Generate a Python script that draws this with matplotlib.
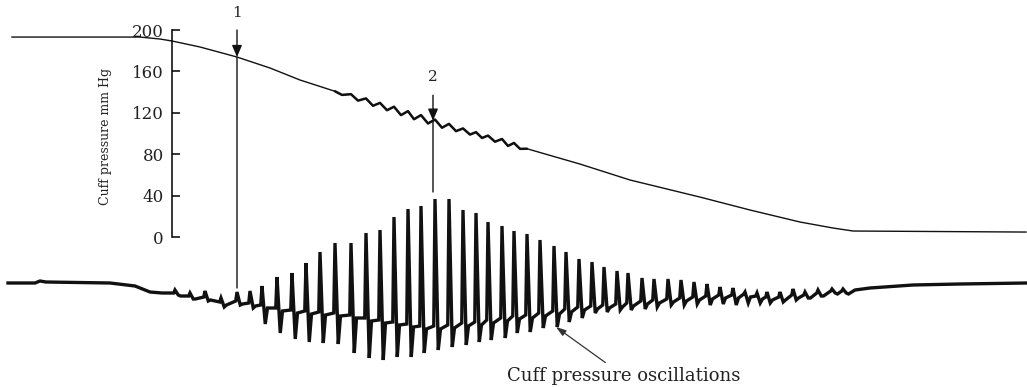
#!/bin/env python3

import numpy as np
import matplotlib
matplotlib.use('Agg')
import matplotlib.pyplot as plt
from matplotlib.patches import ConnectionPatch

# cuff pressure while the cuff deflates (time in s, pressure in mm Hg)
cuff_t = [0.48, 5.60, 6.40, 6.88, 8.00, 9.48, 10.80, 12.00,
          13.40, 13.68, 14.04, 14.32, 14.64, 14.92, 15.20, 15.48, 15.76, 16.04,
          16.32, 16.56, 16.84, 17.12, 17.40, 17.68, 17.96, 18.24, 18.52, 18.80,
          19.04, 19.28, 19.52, 19.80, 20.08, 20.32, 20.56, 20.80, 21.08,
          23.20, 25.20, 28.00, 30.00, 32.00, 33.32, 34.12, 41.04]
cuff_p = [193.2, 193.2, 191.3, 189.4, 183.6, 173.9, 163.3, 151.7,
          140.8, 137.3, 138.0, 131.8, 133.9, 126.8, 129.6, 122.5, 125.9, 117.8,
          121.6, 113.8, 117.8, 109.7, 113.5, 105.6, 109.3, 102.3, 104.9, 99.0,
          101.3, 95.7, 98.0, 92.1, 94.7, 88.0, 90.9, 85.2, 85.3,
          70.5, 55.1, 38.6, 26.1, 14.5, 8.7, 5.8, 4.8]
ripple_span = (13.40, 21.08)

# oscillation trace (arbitrary units, 0 = resting level)
lead_t = [0.32, 1.40, 1.60, 1.84, 4.40, 5.40, 6.00, 6.48]
lead_osc = [0, 0, 2, 1, 0, -3, -9, -10]

beat_t = [7.00, 7.60, 8.20, 8.84, 9.48, 10.00, 10.48, 11.08, 11.68, 12.24,
          12.80, 13.40, 14.04, 14.64, 15.20, 15.76, 16.32, 16.84, 17.40, 17.96,
          18.52, 19.04, 19.52, 20.08, 20.56, 21.08, 21.60, 22.16, 22.64, 23.16,
          23.68, 24.16, 24.68, 25.12, 25.68, 26.16, 26.72, 27.24, 27.76, 28.28,
          28.80, 29.32, 29.80, 30.28, 30.68, 31.20, 31.72, 32.20, 32.72, 33.28,
          33.72]
beat_peak = [-7, -10, -8, -15, -9, -8, -3, 6, 10, 20,
             31, 40, 40, 50, 53, 66, 74, 77, 84, 84,
             73, 70, 61, 57, 52, 49, 43, 37, 31, 24,
             21, 16, 12, 10, 5, 4, 4, 3, 1, -1,
             -4, -5, -9, -10, -9, -9, -6, -9, -7, -6,
             -6]
beat_trough = [-12, -16, -18, -24, -22, -25, -41, -50, -56, -59,
               -60, -61, -70, -75, -77, -74, -74, -70, -67, -64,
               -62, -59, -57, -55, -50, -49, -45, -44, -39, -35,
               -30, -29, -27, -27, -26, -24, -22, -22, -21, -22,
               -21, -22, -20, -20, -20, -19, -17, -15, -13, -10,
               -10]
beat_base = [-10, -13, -14, -19, -18, -20, -22, -25, -27, -28,
             -29, -30, -32, -35, -37, -39, -41, -43, -43, -42,
             -40, -39, -37, -35, -33, -32, -30, -28, -26, -24,
             -23, -22, -21, -20, -18, -17, -16, -15, -14, -13,
             -12, -12, -11, -13, -14, -14, -12, -12, -10, -8,
             -8]

tail_t = [34.20, 34.80, 36.52, 38.40, 41.08]
tail_osc = [-7, -5, -2, -1, 0]

# time points 1 and 2 marked on both traces
mark_t = [9.48, 17.32]
mark_label = ['1', '2']
mark_top = [200, 137]        # mm Hg, where the marker line starts
mark_text_p = [216, 155]
mark_osc_end = [-5, 91]      # where the marker line stops on the lower trace

pressure_ticks = [0, 40, 80, 120, 160, 200]

# pulse shape (s): upstroke, downstroke, recovery
RISE = 0.05
FALL = 0.13
RECOVER = 0.22
UNDERSHOOT = 3

ink = '#111111'
text_ink = '#222222'
font = 'DejaVu Serif'


def build_trace():
    ts = list(lead_t)
    ys = list(lead_osc)
    for t, pk, tr, b in zip(beat_t, beat_peak, beat_trough, beat_base):
        ts += [t - RISE, t, t + FALL, t + RECOVER]
        ys += [b, pk, tr, b - UNDERSHOOT]
    ts += tail_t
    ys += tail_osc
    return np.array(ts), np.array(ys)


fig = plt.figure(figsize=(10.27, 3.87), dpi=100)
ax = fig.add_axes([0, 0, 1, 1])
osc_ax = fig.add_axes([0, 0, 1, 1], sharex=ax)
osc_ax.patch.set_visible(False)
osc_ax.axis('off')

ax.set_xlim(0, 41.08)
ax.set_ylim(-144.9, 229.0)
osc_ax.set_ylim(-104, 283)

# cuff pressure curve, thicker where the pulses ride on it
ax.plot(cuff_t, cuff_p, color=ink, lw=1.0, solid_joinstyle='round')
ct = np.array(cuff_t)
sel = (ct >= ripple_span[0]) & (ct <= ripple_span[1])
ax.plot(ct[sel], np.array(cuff_p)[sel], color=ink, lw=1.8,
        solid_joinstyle='round', solid_capstyle='round')

# lower trace: cuff pressure oscillations
trace_t, trace_y = build_trace()
osc_ax.plot(trace_t, trace_y, color=ink, lw=2.4, solid_joinstyle='miter')

# pressure axis
for side in ['top', 'right', 'bottom']:
    ax.spines[side].set_visible(False)
ax.spines['left'].set_position(('data', 6.88))
ax.spines['left'].set_bounds(0, 200)
ax.spines['left'].set_linewidth(1.1)
ax.set_xticks([])
ax.set_yticks(pressure_ticks)
ax.tick_params(axis='y', direction='in', length=6, width=1.1, pad=6,
               labelsize=12, labelcolor=text_ink)
for lbl in ax.get_yticklabels():
    lbl.set_family(font)
ax.set_ylabel('Cuff pressure mm Hg', fontsize=9, family=font, color=text_ink)
ax.yaxis.set_label_coords(112 / 1027, 1 - 136 / 387)

# markers 1 and 2
mark_p = np.interp(mark_t, cuff_t, cuff_p)
for t, lab, top, tp, p, oe in zip(mark_t, mark_label, mark_top, mark_text_p,
                                  mark_p, mark_osc_end):
    ax.text(t, tp, lab, ha='center', va='center', fontsize=11, family=font,
            color=text_ink)
    ax.annotate('', xy=(t, p), xytext=(t, top),
                arrowprops=dict(arrowstyle='-|>,head_length=0.7,head_width=0.3',
                                lw=1.0, color=ink, shrinkA=0, shrinkB=0,
                                mutation_scale=10))
    con = ConnectionPatch(xyA=(t, p), coordsA=ax.transData,
                          xyB=(t, oe), coordsB=osc_ax.transData,
                          color=ink, lw=1.0)
    fig.add_artist(con)

osc_ax.annotate('Cuff pressure oscillations', xy=(22.24, -44), xytext=(24.96, -93),
                ha='center', va='center', fontsize=13, family=font, color=text_ink,
                arrowprops=dict(arrowstyle='-|>,head_length=0.6,head_width=0.2',
                                lw=0.9, color='#333333', shrinkA=2, shrinkB=0,
                                mutation_scale=10))

plt.savefig('out.png', dpi=100)
